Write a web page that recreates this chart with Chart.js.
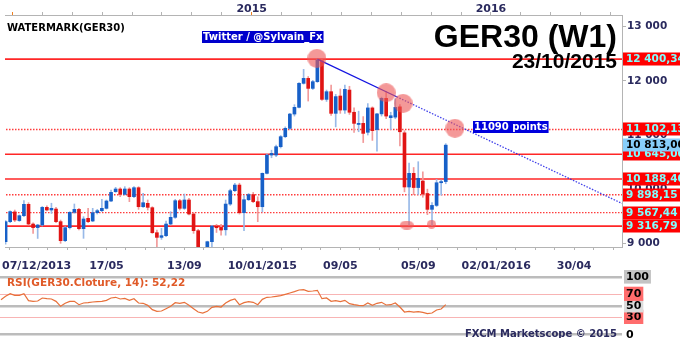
<!DOCTYPE html>
<html>
<head>
<meta charset="utf-8">
<title>GER30 (W1)</title>
<script src="https://cdn.jsdelivr.net/npm/chart.js@4.4.1/dist/chart.umd.min.js"></script>
<style>
  html, body { margin: 0; padding: 0; background: #fff; }
  #wrap { position: relative; width: 680px; height: 338px; overflow: hidden; background: #fff; }
  #rsi { position: absolute; left: 0; top: 270px; }
  #main { position: absolute; left: 0; top: 0; }
</style>
</head>
<body>
<div id="wrap">
  <canvas id="rsi" width="680" height="68" style="width:680px;height:68px"></canvas>
  <canvas id="main" width="680" height="275" style="width:680px;height:275px"></canvas>
</div>
<script>
// weekly candles GER30, week of 07/12/2013 -> week of 23/10/2015 (index 0..97)
const opens = [9200, 9030, 9400, 9580, 9420, 9510, 9720, 9356, 9290, 9338,
  9664, 9615, 9633, 9400, 9049, 9289, 9572, 9627, 9270, 9461,
  9412, 9566, 9603, 9646, 9781, 9953, 10003, 9904, 10003, 9861,
  10027, 9676, 9738, 9658, 9196, 9110, 9141, 9356, 9480, 9787,
  9646, 9800, 9541, 9233, 8790, 8860, 9030, 9319, 9294, 9250,
  9725, 9972, 10076, 9565, 9805, 9900, 9770, 9676, 10292, 10630,
  10630, 10784, 10969, 11123, 11387, 11511, 11954, 12046, 11861, 11985,
  12372, 11658, 11800, 11400, 11720, 11461, 11830, 11420, 11195, 11215,
  11050, 11500, 11100, 11390, 11677, 11320, 11330, 11520, 11040, 10040,
  10292, 10030, 10150, 9920, 9627, 9700, 10119, 10140];
const highs = [9240, 9420, 9600, 9615, 9525, 9790, 9750, 9380, 9350, 9680,
  9690, 9740, 9664, 9430, 9307, 9584, 9726, 9646, 9492, 9646,
  9646, 9627, 9812, 9800, 9984, 10034, 10027, 10046, 10027, 10046,
  10046, 9923, 9800, 9676, 9246, 9276, 9412, 9584, 9812, 9812,
  9910, 9830, 9566, 9260, 8920, 9040, 9330, 9350, 9350, 9800,
  10000, 10107, 10110, 9880, 9920, 9940, 9860, 10300, 10650, 10720,
  10815, 10990, 11150, 11400, 11560, 11970, 12212, 12080, 12010, 12400,
  12390, 11830, 11920, 11750, 11850, 11920, 11900, 11500, 11440, 11340,
  11580, 11520, 11400, 11700, 11800, 11420, 11670, 11560, 11080, 10480,
  10400, 10507, 10320, 10000, 9750, 10180, 10170, 10840];
const lows = [8990, 8985, 9380, 9400, 9405, 9490, 9340, 9185, 9090, 9320,
  9596, 9553, 9380, 9000, 9030, 9264, 9553, 9246, 9092, 9381,
  9400, 9541, 9584, 9633, 9769, 9941, 9861, 9892, 9769, 9843,
  9627, 9664, 9615, 9184, 8900, 9073, 9122, 9338, 9461, 9615,
  9627, 9523, 9184, 8700, 8350, 8800, 8900, 9200, 9150, 9150,
  9700, 9953, 9540, 9233, 9790, 9750, 9400, 9580, 10280, 10580,
  10600, 10760, 10950, 11100, 11350, 11500, 11940, 11627, 11840, 11970,
  11640, 11620, 11360, 11150, 11400, 11400, 11380, 11050, 11060, 10860,
  11000, 10900, 10700, 11350, 11300, 11100, 11300, 10800, 9950, 9338,
  9900, 9900, 9850, 9530, 9330, 9680, 9890, 10100];
const closes = [9030, 9400, 9585, 9430, 9510, 9720, 9356, 9290, 9338, 9664,
  9615, 9646, 9400, 9049, 9289, 9572, 9627, 9270, 9449, 9400,
  9566, 9603, 9646, 9781, 9941, 10003, 9904, 10003, 9861, 10027,
  9676, 9750, 9664, 9196, 9110, 9141, 9356, 9480, 9787, 9646,
  9800, 9541, 9233, 8790, 8850, 9030, 9319, 9288, 9245, 9725,
  9972, 10076, 9565, 9805, 9900, 9770, 9676, 10292, 10630, 10661,
  10784, 10969, 11123, 11387, 11511, 11954, 12046, 11861, 11985, 12385,
  11658, 11800, 11400, 11709, 11461, 11843, 11420, 11215, 11215, 11030,
  11500, 11080, 11390, 11677, 11350, 11356, 11510, 11060, 10040, 10292,
  10030, 10200, 9910, 9627, 9700, 10119, 10140, 10813];
const rsiValues = [60.7, 66.5, 71.1, 68.2, 68.2, 71.1, 59, 57.8, 58.4, 63.6,
  62.4, 61.9, 57.8, 49.2, 54.4, 57.8, 57.8, 52, 54.9, 55.5,
  56.7, 57.3, 57.8, 59.6, 63.6, 64.8, 61.9, 63, 59.6, 62.4,
  54.9, 54.4, 50.9, 43.4, 40.5, 41.1, 45.1, 49.2, 55.5, 54.4,
  56.1, 50.9, 45.1, 39.3, 37.6, 40.5, 47.4, 49.2, 48, 55,
  59.5, 61.9, 52, 55.5, 57.3, 56.1, 52, 61.3, 64.8, 65.3,
  66.5, 67.6, 70, 72.3, 74.6, 77.5, 78.1, 75.2, 75.7, 76.9,
  62.4, 63.6, 57.8, 59, 57.3, 59.6, 53.8, 52, 50.9, 50.3,
  54.9, 50.9, 54.4, 56.1, 51.5, 52, 54.9, 48, 39.3, 40.5,
  39.3, 39.9, 38.8, 36.5, 37.6, 42.8, 44.5, 52.22];

const solidLevels = [12400.34, 10645.00, 10188.40, 9316.79];
const dottedLevels = [11102.13, 9898.15, 9567.44];
const priceTicks = [9000, 10000, 11000, 12000, 13000];
const rsiTicks = [0, 30, 50, 70, 100];
const dateTickIdx = [6, 23, 40, 57, 74, 91, 108, 125];
const dateLabels = ['07/12/2013', '17/05', '13/09', '10/01/2015', '09/05', '05/09', '02/01/2016', '30/04'];
const yearTickIdx = [54.68, 106.86];
const yearLabels = ['2015', '2016'];
const trendX = [69, 86.3, 135.44];
const trendY = [12400, 11706, 9736];
const peakMarkX = [68.9, 84.0, 87.7, 99.0];
const peakMarkY = [12416, 11781, 11585, 11124];
const lowMarkX = [88.5, 93.9];
const lowMarkY = [9338, 9351];

const xMin = -0.218, xMax = 135.44;
const navy = '#2a2a5e';
const upBody = '#1760c8', downBody = '#e01414';
const upWick = '#98b9e8', downWick = '#f29a9a';
const markColor = 'rgba(238, 88, 88, 0.62)';
const FONT = '"DejaVu Sans", Verdana, sans-serif';

function fmtFr(v, dec) {
  const parts = v.toFixed(dec).split('.');
  const intPart = parts[0].replace(/\B(?=(\d{3})+(?!\d))/g, ' ');
  return parts.length > 1 ? intPart + ',' + parts[1] : intPart;
}

function ellipseMark(w, h) {
  const c = document.createElement('canvas');
  c.width = w; c.height = h;
  const g = c.getContext('2d');
  g.fillStyle = markColor;
  g.beginPath();
  g.ellipse(w / 2, h / 2, w / 2, h / 2, 0, 0, Math.PI * 2);
  g.fill();
  return c;
}

const idx = closes.map((_, i) => i);
const isUp = idx.map(i => closes[i] >= opens[i]);

// tick positions of the two time axes (every 17/4 weeks at the bottom, 8 per year on top)
const bottomTicks = [];
for (let v = dateTickIdx[0] - 4.25; v <= xMax; v += 4.25) bottomTicks.push(v);
const topTicks = [];
const yearStep = (yearTickIdx[1] - yearTickIdx[0]) / 8;
for (let v = yearTickIdx[0] - 8 * yearStep; v <= xMax; v += yearStep) topTicks.push(v);
const isYearTick = v => Math.abs(((v - yearTickIdx[0]) / yearStep) % 8) < 0.01;

function levelLine(value, dashed) {
  return {
    type: 'line',
    data: [{ x: xMin, y: value }, { x: xMax, y: value }],
    borderColor: dashed ? '#ff3c3c' : '#ff2626',
    borderWidth: dashed ? 1.4 : 1.6,
    borderDash: dashed ? [1.5, 1.5] : [],
    pointRadius: 0,
    order: 5
  };
}

function textBox(ctx, text, x, y, h, bg, fg, font, padL, padR) {
  ctx.font = font;
  const w = ctx.measureText(text).width;
  ctx.fillStyle = bg;
  ctx.fillRect(x, y, w + padL + padR, h);
  ctx.fillStyle = fg;
  ctx.textBaseline = 'middle';
  ctx.textAlign = 'left';
  ctx.fillText(text, x + padL, y + h / 2 + 0.5);
}

const overlayPlugin = {
  id: 'overlay',
  afterDraw(chart) {
    const ctx = chart.ctx;
    const xs = chart.scales.x, ys = chart.scales.y;
    ctx.save();

    // years above the top axis, dates under the bottom axis
    ctx.font = 'bold 11px ' + FONT;
    ctx.fillStyle = navy;
    ctx.textBaseline = 'alphabetic';
    ctx.textAlign = 'center';
    yearTickIdx.forEach((v, k) => ctx.fillText(yearLabels[k], xs.getPixelForValue(v), 11.5));
    ctx.textAlign = 'left';
    dateTickIdx.forEach((v, k) => {
      const w = ctx.measureText(dateLabels[k]).width;
      const px = Math.max(2, xs.getPixelForValue(v) - w / 2);
      ctx.fillText(dateLabels[k], px, 268.5);
    });

    // level labels on the price axis
    const boxFont = 'bold 10.5px ' + FONT;
    const levels = solidLevels.concat(dottedLevels).sort((a, b) => b - a);
    levels.forEach(v => {
      const py = ys.getPixelForValue(v);
      textBox(ctx, fmtFr(v, 2), 623, Math.round(py) - 6.5, 13, '#ff0000', '#80ffff', boxFont, 3, 20);
    });
    const last = closes[closes.length - 1];
    textBox(ctx, fmtFr(last, 2), 623, Math.round(ys.getPixelForValue(last)) - 6.5, 13, '#87cefa', '#000000', boxFont, 3, 20);

    // annotations
    ctx.font = 'bold 10px ' + FONT;
    ctx.fillStyle = '#000';
    ctx.textBaseline = 'alphabetic';
    ctx.fillText('WATERMARK(GER30)', 7, 31);

    textBox(ctx, 'Twitter / @Sylvain_Fx', 202, 31, 12, '#0000cc', '#ffffff', 'bold 10px ' + FONT, 1, 1);
    textBox(ctx, '11090 points', 473, 121, 12, '#0000dd', '#ffffff', 'bold 10px ' + FONT, 1, 1);

    ctx.fillStyle = '#000';
    ctx.textAlign = 'right';
    ctx.textBaseline = 'alphabetic';
    ctx.font = 'bold 32px "Liberation Sans", Arial, sans-serif';
    ctx.fillText('GER30 (W1)', 617, 47);
    ctx.font = 'bold 21px "Liberation Sans", Arial, sans-serif';
    ctx.fillText('23/10/2015', 617, 68);

    ctx.restore();
  }
};

const mainChart = new Chart(document.getElementById('main'), {
  type: 'bar',
  data: {
    datasets: [
      {
        type: 'scatter',
        data: peakMarkX.map((x, k) => ({ x: x, y: peakMarkY[k] })),
        pointStyle: peakMarkX.map(() => ellipseMark(19, 19)),
        order: 0
      },
      {
        type: 'scatter',
        data: lowMarkX.map((x, k) => ({ x: x, y: lowMarkY[k] })),
        pointStyle: [ellipseMark(14, 9), ellipseMark(9, 9)],
        order: 0
      },
      {
        type: 'line',
        data: trendX.slice(0, 2).map((x, k) => ({ x: x, y: trendY[k] })),
        borderColor: '#1414e0',
        borderWidth: 1.3,
        pointRadius: 0,
        order: 1
      },
      {
        type: 'line',
        data: trendX.slice(1).map((x, k) => ({ x: x, y: trendY[k + 1] })),
        borderColor: 'rgba(30, 30, 230, 0.85)',
        borderWidth: 1.3,
        borderDash: [1.5, 1.5],
        pointRadius: 0,
        order: 1
      },
      {
        label: 'body',
        data: idx.map(i => ({ x: i, y: [opens[i], closes[i]] })),
        backgroundColor: idx.map(i => isUp[i] ? upBody : downBody),
        barThickness: 3,
        grouped: false,
        borderWidth: 0,
        order: 2
      },
      {
        label: 'wick',
        data: idx.map(i => ({ x: i, y: [lows[i], highs[i]] })),
        backgroundColor: idx.map(i => isUp[i] ? upWick : downWick),
        barThickness: 1,
        grouped: false,
        borderWidth: 0,
        order: 3
      },
      ...solidLevels.map(v => levelLine(v, false)),
      ...dottedLevels.map(v => levelLine(v, true))
    ]
  },
  options: {
    responsive: false,
    animation: false,
    events: [],
    layout: { padding: { left: 0, right: 0, top: 0, bottom: 24 } },
    plugins: { legend: { display: false }, tooltip: { enabled: false } },
    scales: {
      x: {
        type: 'linear',
        position: 'bottom',
        offset: false,
        min: xMin,
        max: xMax,
        grid: { offset: false, drawOnChartArea: false, tickLength: 3, color: '#b4b4b4' },
        border: { color: '#b4b4b4' },
        ticks: { display: false },
        afterBuildTicks: s => { s.ticks = bottomTicks.map(v => ({ value: v })); },
        afterFit: s => { s.height = 4; s.paddingLeft = 0; s.paddingRight = 0; }
      },
      x2: {
        type: 'linear',
        axis: 'x',
        position: 'top',
        offset: false,
        min: xMin,
        max: xMax,
        grid: {
          offset: false,
          drawOnChartArea: false,
          tickLength: 3,
          color: '#b4b4b4',
          tickColor: c => (c.tick && isYearTick(c.tick.value)) ? '#f08020' : '#b4b4b4'
        },
        border: { color: '#b4b4b4' },
        ticks: { display: false },
        afterBuildTicks: s => { s.ticks = topTicks.map(v => ({ value: v })); },
        afterFit: s => { s.height = 15; s.paddingLeft = 0; s.paddingRight = 0; }
      },
      y: {
        type: 'linear',
        position: 'right',
        min: 8932,
        max: 13216,
        grid: { drawOnChartArea: false, tickLength: 4, color: '#b4b4b4' },
        border: { color: '#b4b4b4' },
        ticks: {
          autoSkip: false,
          padding: 1,
          color: navy,
          font: { family: FONT, size: 10.5, weight: 'bold' },
          callback: v => fmtFr(v, 0)
        },
        afterBuildTicks: s => { s.ticks = priceTicks.map(v => ({ value: v })); },
        afterFit: s => { s.width = 58; s.paddingLeft = 0; s.paddingRight = 0; }
      }
    }
  },
  plugins: [overlayPlugin]
});

// if the layout still leaves a gap on the left, widen the time range so the weeks keep their place
const areaLeft = mainChart.chartArea.left;
if (areaLeft > 0.5) {
  const areaRight = mainChart.chartArea.right;
  const m = xMax - (areaRight - areaLeft) / areaRight * (xMax - xMin);
  mainChart.options.scales.x.min = m;
  mainChart.options.scales.x2.min = m;
  mainChart.update();
}

const rsiTextPlugin = {
  id: 'rsiText',
  afterDraw(chart) {
    const ctx = chart.ctx;
    ctx.save();
    ctx.textBaseline = 'alphabetic';
    ctx.textAlign = 'left';
    ctx.font = 'bold 10.5px ' + FONT;
    ctx.fillStyle = '#e05a28';
    ctx.fillText('RSI(GER30.Cloture, 14): ' + fmtFr(rsiValues[rsiValues.length - 1], 2), 7, 15.5);
    ctx.textAlign = 'right';
    ctx.font = 'bold 10px ' + FONT;
    ctx.fillStyle = navy;
    ctx.fillText('FXCM Marketscope \u00a9 2015', 617, 66.5);
    ctx.restore();
  }
};

const rsiChart = new Chart(document.getElementById('rsi'), {
  type: 'line',
  data: {
    datasets: [{
      data: idx.map(i => ({ x: i, y: rsiValues[i] })),
      borderColor: '#e8703a',
      borderWidth: 1.2,
      pointRadius: 0,
      tension: 0
    }]
  },
  options: {
    responsive: false,
    animation: false,
    events: [],
    layout: { padding: { left: 0, right: 0, top: 7, bottom: 3.3 } },
    plugins: { legend: { display: false }, tooltip: { enabled: false } },
    scales: {
      x: { type: 'linear', min: xMin, max: xMax, display: false },
      y: {
        type: 'linear',
        position: 'right',
        min: 0,
        max: 100,
        grid: {
          drawTicks: false,
          color: c => (c.tick && (c.tick.value === 30 || c.tick.value === 70)) ? '#f8b4b4' : '#bcbcbc',
          lineWidth: c => (c.tick && (c.tick.value === 30 || c.tick.value === 70)) ? 1 : 2.5
        },
        border: { display: false },
        ticks: {
          autoSkip: false,
          padding: 4,
          color: '#000',
          font: { family: FONT, size: 11, weight: 'bold' },
          showLabelBackdrop: true,
          backdropPadding: { left: 2, right: 2, top: 1, bottom: 0 },
          backdropColor: c => {
            const v = c.tick ? c.tick.value : 0;
            if (v === 30 || v === 70) return '#ff6c6c';
            if (v === 100) return '#c4c4c4';
            if (v === 50) return '#dcdcdc';
            return 'rgba(0,0,0,0)';
          }
        },
        afterBuildTicks: s => { s.ticks = rsiTicks.map(v => ({ value: v })); },
        afterFit: s => { s.width = 58; s.paddingTop = 0; s.paddingBottom = 0; }
      }
    }
  },
  plugins: [rsiTextPlugin]
});
</script>
</body>
</html>
